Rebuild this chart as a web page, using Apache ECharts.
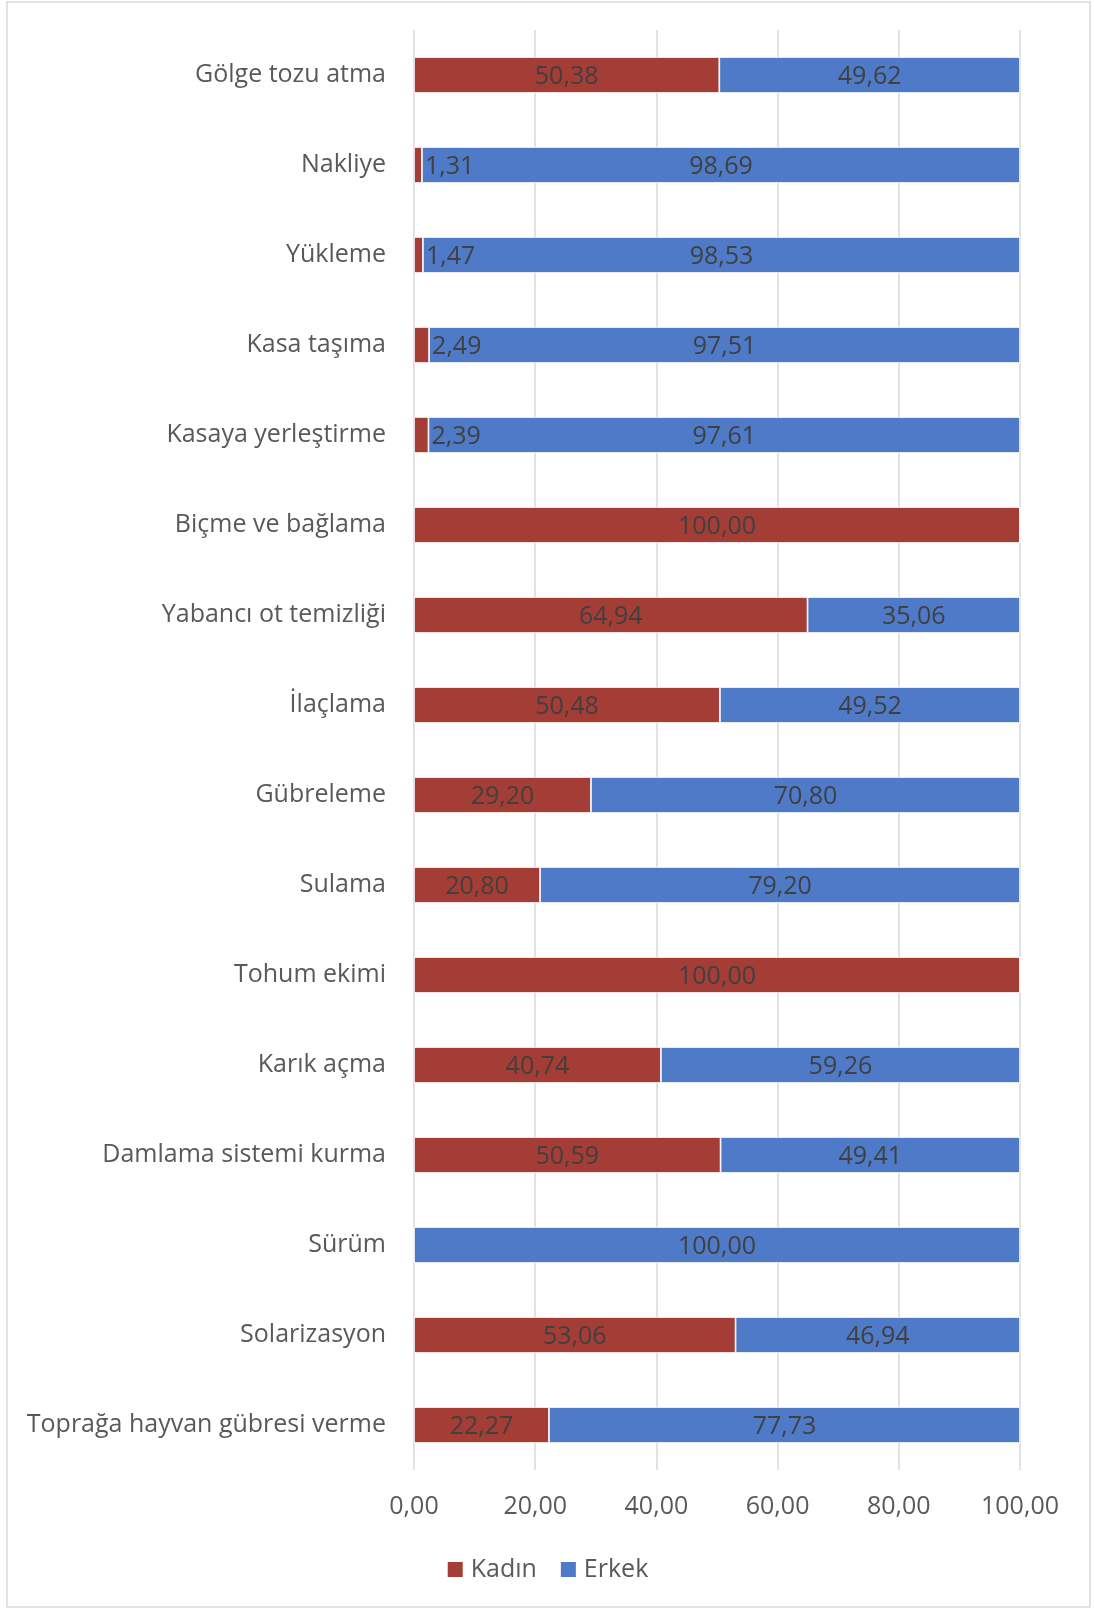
<!DOCTYPE html>
<html>
<head>
<meta charset="utf-8">
<script src="https://cdn.jsdelivr.net/npm/echarts@6/dist/echarts.min.js"></script>
<style>
html,body{margin:0;padding:0;background:#fff;}
#chart{width:1094px;height:1609px;}
</style>
</head>
<body>
<div id="chart"></div>
<script>
const categories = ["Gölge tozu atma","Nakliye","Yükleme","Kasa taşıma","Kasaya yerleştirme","Biçme ve bağlama","Yabancı ot temizliği","İlaçlama","Gübreleme","Sulama","Tohum ekimi","Karık açma","Damlama sistemi kurma","Sürüm","Solarizasyon","Toprağa hayvan gübresi verme"];
const kadin = [50.38,1.31,1.47,2.49,2.39,100,64.94,50.48,29.20,20.80,100,40.74,50.59,0,53.06,22.27];
const erkek = [49.62,98.69,98.53,97.51,97.61,0,35.06,49.52,70.80,79.20,0,59.26,49.41,100,46.94,77.73];
const xTicks = [0,20,40,60,80,100];

const FONT = '"Open Sans", sans-serif';
const fmt = v => v.toFixed(2).replace('.', ',');

const chart = echarts.init(document.getElementById('chart'), null, {renderer:'canvas'});

const kadinData = kadin.map(v => {
  const item = {value: v};
  if (v === 0) item.label = {show:false};
  else if (v < 5) item.label = {position:'right', distance:3};
  return item;
});
const erkekData = erkek.map(v => {
  const item = {value: v};
  if (v === 0) item.label = {show:false};
  return item;
});

const labelStyle = {
  show:true, position:'inside', color:'#404040', fontFamily:FONT, fontSize:25,
  offset:[0,2],
  formatter: p => fmt(p.value)
};

chart.setOption({
  animation:false,
  backgroundColor:'#fff',
  textStyle:{fontFamily:FONT},
  graphic:[{
    type:'rect', shape:{x:7, y:2, width:1083, height:1605},
    style:{fill:'none', stroke:'#d9d9d9', lineWidth:1.5}, silent:true, z:-1
  }],
  grid:{left:414, right:74, top:30, bottom:139, containLabel:false},
  legend:{
    data:['Kadın','Erkek'], bottom:22, left:'center',
    icon:'rect', itemWidth:17, itemHeight:17, itemGap:22,
    textStyle:{fontFamily:FONT, fontSize:25, color:'#595959', padding:[0,0,0,2]}
  },
  xAxis:{
    type:'value', min:0, max:100, interval:20,
    axisLine:{show:false}, axisTick:{show:false},
    splitLine:{show:true, lineStyle:{color:'#d9d9d9', width:1.5}},
    axisLabel:{fontFamily:FONT, fontSize:25, color:'#595959', margin:24,
      formatter: v => xTicks.includes(v) ? fmt(v) : ''}
  },
  yAxis:{
    type:'category', data:categories, inverse:true,
    axisLine:{show:false}, axisTick:{show:false},
    axisLabel:{fontFamily:FONT, fontSize:25, color:'#595959', margin:28,
      padding:[4,0,0,0]}
  },
  series:[
    {name:'Kadın', type:'bar', stack:'t', barWidth:'40%', data:kadinData,
     itemStyle:{color:'#A33D35', borderColor:'#fff', borderWidth:0.8},
     label:labelStyle},
    {name:'Erkek', type:'bar', stack:'t', barWidth:'40%', data:erkekData,
     itemStyle:{color:'#4E7AC7', borderColor:'#fff', borderWidth:0.8},
     label:labelStyle}
  ]
});
</script>
</body>
</html>
